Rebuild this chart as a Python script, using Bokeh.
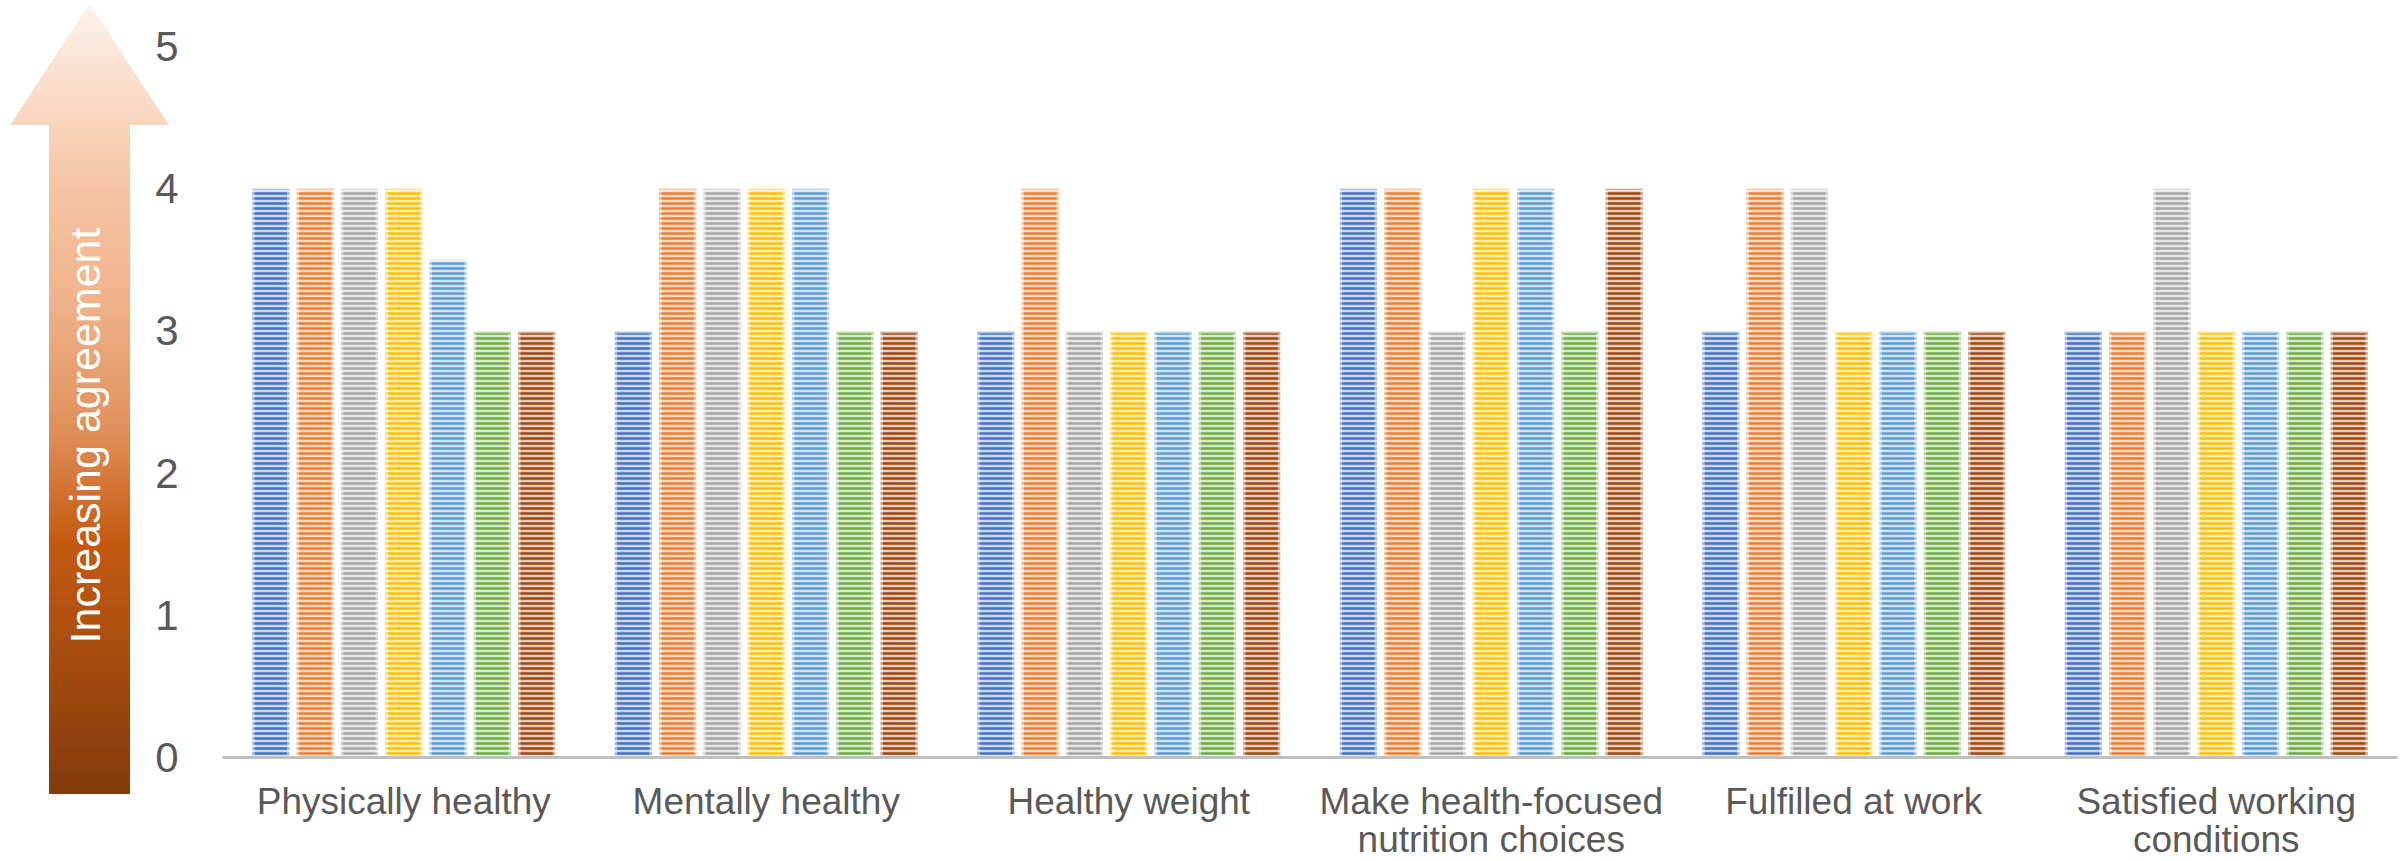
import math

from bokeh.core.properties import value
from bokeh.embed import file_html
from bokeh.models import ColumnDataSource, Range1d, FixedTicker
from bokeh.plotting import figure
from bokeh.resources import INLINE
from bokeh.transform import dodge

# ---------------------------------------------------------------- data
categories = [
    "Physically healthy",
    "Mentally healthy",
    "Healthy weight",
    "Make health-focused nutrition choices",
    "Fulfilled at work",
    "Satisfied working conditions",
]
# long names are broken over two lines on the axis
category_labels = {
    "Make health-focused nutrition choices": "Make health-focused\nnutrition choices",
    "Satisfied working conditions": "Satisfied working\nconditions",
}

series_1 = [4, 3, 3, 4, 3, 3]
series_2 = [4, 4, 4, 4, 4, 3]
series_3 = [4, 4, 3, 3, 4, 4]
series_4 = [4, 4, 3, 4, 3, 3]
series_5 = [3.5, 4, 3, 4, 3, 3]
series_6 = [3, 3, 3, 3, 3, 3]
series_7 = [3, 3, 3, 4, 3, 3]

y_ticks = [0, 1, 2, 3, 4, 5]
arrow_label = "Increasing agreement"

# ---------------------------------------------------------------- style
FONT = "Liberation Sans"
TEXT = "#595959"
series = [series_1, series_2, series_3, series_4, series_5, series_6, series_7]
colors = ["#4472C4", "#ED7D31", "#A5A5A5", "#FFC000", "#5B9BD5", "#70AD47", "#9E480E"]

W, H = 2404, 861
# canvas placement of the plotting area
AREA_LEFT, AREA_RIGHT = 222.0, 2397.0
Y0_PX, Y5_PX = 757.0, 46.0
n_cat = len(categories)
px_per_cat = (AREA_RIGHT - AREA_LEFT) / n_cat
px_per_unit = (Y0_PX - Y5_PX) / 5.0


def hex_rgb(c):
    c = c.lstrip("#")
    return tuple(int(c[i:i + 2], 16) for i in (0, 2, 4))


def rgb_hex(rgb):
    return "#%02x%02x%02x" % tuple(int(round(v)) for v in rgb)


def tint(c, amount):
    r, g, b = hex_rgb(c)
    return rgb_hex((r + (255 - r) * amount, g + (255 - g) * amount, b + (255 - b) * amount))


# ---------------------------------------------------------------- figure
# categories sit at x = 1..6, each one unit wide
x_pos = list(range(1, n_cat + 1))
src = ColumnDataSource(dict(x=x_pos, **{f"s{i}": s for i, s in enumerate(series)}))

p = figure(
    x_range=Range1d(0.5 - AREA_LEFT / px_per_cat, n_cat + 0.5 + (W - AREA_RIGHT) / px_per_cat),
    y_range=Range1d(-(H - Y0_PX) / px_per_unit, 5 + Y5_PX / px_per_unit),
    width=W,
    height=H,
    output_backend="svg",
    toolbar_location=None,
    min_border=0,
)
p.outline_line_color = None
p.background_fill_color = "white"
p.border_fill_color = "white"
p.xgrid.grid_line_color = None
p.ygrid.grid_line_color = None
# pixel space for the decorative arrow
p.extra_x_ranges = {"px": Range1d(0, W)}
p.extra_y_ranges = {"px": Range1d(0, H)}

# ---------------------------------------------------------------- arrow
cx, tip_y, head_y, bottom_y = 89.0, 4.0, 124.0, 793.0
head_half, body_half = 78.5, 40.0
stops = [
    (0.00, "#FDF3EC"),
    (0.23, "#F6C4A2"),
    (0.37, "#F0B48C"),
    (0.54, "#E0905A"),
    (0.68, "#C55A11"),
    (0.80, "#AC4F10"),
    (1.00, "#833C0C"),
]


def grad(f):
    for (f0, c0), (f1, c1) in zip(stops[:-1], stops[1:]):
        if f <= f1:
            t = (f - f0) / (f1 - f0)
            r0, r1 = hex_rgb(c0), hex_rgb(c1)
            return rgb_hex(tuple(u + (v - u) * t for u, v in zip(r0, r1)))
    return stops[-1][1]


def half_width(y, below_head):
    if y < head_y or (y == head_y and not below_head):
        return head_half * (y - tip_y) / (head_y - tip_y)
    return body_half


xs, ys, fills = [], [], []
n = 200
edges = sorted(set([tip_y + (bottom_y - tip_y) * k / n for k in range(n + 1)] + [head_y]))
for y0, y1 in zip(edges[:-1], edges[1:]):
    h0 = half_width(y0, True)
    h1 = half_width(y1, False)
    xs.append([cx - h0, cx + h0, cx + h1, cx - h1])
    ys.append([H - y0, H - y0, H - y1, H - y1])
    fills.append(grad(((y0 + y1) / 2 - tip_y) / (bottom_y - tip_y)))

p.patches(xs=xs, ys=ys, fill_color=fills, line_color=fills, line_width=1,
          x_range_name="px", y_range_name="px")
p.text(
    x=[84], y=[H - 435], text=[arrow_label], angle=math.pi / 2,
    text_align="center", text_baseline="middle",
    text_color="white", text_font=value(FONT), text_font_size="43px",
    x_range_name="px", y_range_name="px",
)

# ---------------------------------------------------------------- bars
step = 44.3 / px_per_cat
bar_w = 37.3 / px_per_cat
for i, c in enumerate(colors):
    p.vbar(
        x=dodge("x", (i - 3) * step),
        top=f"s{i}",
        bottom=0,
        width=bar_w,
        source=src,
        fill_color=tint(c, 0.72),
        hatch_pattern="horizontal_line",
        hatch_color=c,
        hatch_scale=5,
        hatch_weight=2.5,
        line_color="white",
        line_alpha=0.45,
        line_width=5,
    )

# ---------------------------------------------------------------- axes
yax = p.yaxis[0]
yax.fixed_location = 0.5
yax.ticker = FixedTicker(ticks=y_ticks)
yax.axis_line_color = None
yax.major_tick_line_color = None
yax.minor_tick_line_color = None
yax.major_label_standoff = 38
yax.major_label_text_font = FONT
yax.major_label_text_font_size = "42px"
yax.major_label_text_color = TEXT

xax = p.xaxis[0]
xax.fixed_location = 0
xax.bounds = (0.5, n_cat + 0.5)
xax.ticker = FixedTicker(ticks=x_pos)
xax.major_label_overrides = {x: category_labels.get(c, c) for x, c in zip(x_pos, categories)}
xax.axis_line_color = "#BFBFBF"
xax.axis_line_width = 3
xax.major_tick_line_color = None
xax.minor_tick_line_color = None
xax.major_label_standoff = 17
xax.major_label_text_font = FONT
xax.major_label_text_font_size = "37px"
xax.major_label_text_color = TEXT
xax.major_label_text_line_height = 0.94

open("out.html", "w").write(file_html(p, INLINE))
